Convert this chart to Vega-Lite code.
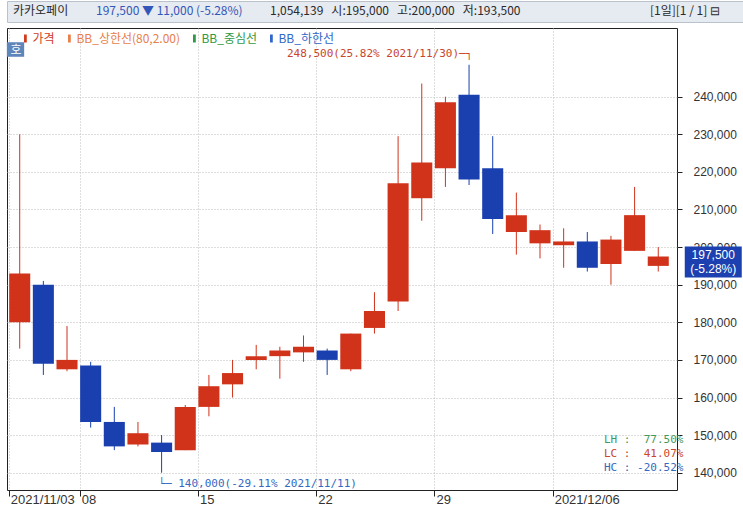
{
  "$schema": "https://vega.github.io/schema/vega-lite/v6.json",
  "background": "white",
  "padding": 0,
  "spacing": 4,
  "resolve": {"scale": {"color": "independent", "shape": "independent", "opacity": "independent"}, "legend": {"color": "independent", "shape": "independent", "opacity": "independent"}},
  "config": {"view": {"stroke": null}, "legend": {"padding": 0, "title": null}},
  "datasets": {
    "ohlc": [
      {"date": "2021/11/03", "open": 180000, "high": 230000, "low": 173000, "close": 193000},
      {"date": "2021/11/04", "open": 190000, "high": 191000, "low": 166000, "close": 169000},
      {"date": "2021/11/05", "open": 167500, "high": 179000, "low": 167000, "close": 170000},
      {"date": "2021/11/08", "open": 168500, "high": 169500, "low": 152000, "close": 153500},
      {"date": "2021/11/09", "open": 153500, "high": 157500, "low": 146000, "close": 147000},
      {"date": "2021/11/10", "open": 147500, "high": 153500, "low": 147000, "close": 150500},
      {"date": "2021/11/11", "open": 148000, "high": 150000, "low": 140000, "close": 145500},
      {"date": "2021/11/12", "open": 146000, "high": 158000, "low": 146000, "close": 157500},
      {"date": "2021/11/15", "open": 157500, "high": 166000, "low": 155000, "close": 163000},
      {"date": "2021/11/16", "open": 163500, "high": 170000, "low": 160000, "close": 166500},
      {"date": "2021/11/17", "open": 170000, "high": 174000, "low": 167500, "close": 171000},
      {"date": "2021/11/18", "open": 171000, "high": 173500, "low": 165000, "close": 172500},
      {"date": "2021/11/19", "open": 172000, "high": 176500, "low": 169500, "close": 173500},
      {"date": "2021/11/22", "open": 172500, "high": 173000, "low": 166000, "close": 170000},
      {"date": "2021/11/23", "open": 167500, "high": 177000, "low": 167000, "close": 177000},
      {"date": "2021/11/24", "open": 178500, "high": 188000, "low": 177000, "close": 183000},
      {"date": "2021/11/25", "open": 185500, "high": 229500, "low": 183000, "close": 217000},
      {"date": "2021/11/26", "open": 213000, "high": 243500, "low": 207000, "close": 222500},
      {"date": "2021/11/29", "open": 221000, "high": 240000, "low": 216000, "close": 238500},
      {"date": "2021/11/30", "open": 240500, "high": 248500, "low": 216500, "close": 218000},
      {"date": "2021/12/01", "open": 221000, "high": 229500, "low": 203500, "close": 207500},
      {"date": "2021/12/02", "open": 204000, "high": 214500, "low": 198000, "close": 208500},
      {"date": "2021/12/03", "open": 201000, "high": 206000, "low": 197000, "close": 204500},
      {"date": "2021/12/06", "open": 200500, "high": 205000, "low": 194500, "close": 201500},
      {"date": "2021/12/07", "open": 201500, "high": 204000, "low": 193500, "close": 194500},
      {"date": "2021/12/08", "open": 195500, "high": 203000, "low": 190000, "close": 202000},
      {"date": "2021/12/09", "open": 199000, "high": 216000, "low": 199000, "close": 208500},
      {"date": "2021/12/10", "open": 195000, "high": 200000, "low": 193500, "close": 197500}
    ],
    "ann": [
      {"date": "2021/11/30", "price": 248500, "kind": "hi", "label": "248,500(25.82% 2021/11/30)─┐"},
      {"date": "2021/11/11", "price": 140000, "kind": "lo", "label": "└─ 140,000(-29.11% 2021/11/11)"}
    ],
    "last": [
      {"date": "2021/12/10", "close": 197500, "label": "197,500\n(-5.28%)"}
    ],
    "series": [
      {"series": "가격"}, {"series": "BB_상한선(80,2.00)"}, {"series": "BB_중심선"}, {"series": "BB_하한선"}
    ],
    "stats": [
      {"stat": "LH :\u00a0 77.50%"}, {"stat": "LC :\u00a0 41.07%"}, {"stat": "HC : -20.52%"}
    ],
    "badge": [
      {"badge": "호"}
    ],
    "hdr": [
      {"part": "카카오페이"},
      {"part": "197,500 ▼ 11,000 (-5.28%)"},
      {"part": "1,054,139\u00a0\u00a0 시:195,000\u00a0\u00a0 고:200,000\u00a0\u00a0 저:193,500"}
    ],
    "hdr2": [
      {"part": "[1일][1 / 1] ⊟"}
    ]
  },
  "vconcat": [
    {
      "width": 743,
      "height": 21,
      "view": {"fill": "#e6eaf1", "stroke": "#b9c1cc"},
      "resolve": {"scale": {"color": "independent", "shape": "independent"}, "legend": {"color": "independent", "shape": "independent"}},
      "layer": [
        {
          "data": {"name": "hdr"},
          "mark": {"type": "square", "opacity": 0},
          "encoding": {
            "color": {
              "field": "part", "type": "nominal",
              "scale": {"domain": ["카카오페이", "197,500 ▼ 11,000 (-5.28%)", "1,054,139\u00a0\u00a0 시:195,000\u00a0\u00a0 고:200,000\u00a0\u00a0 저:193,500"], "range": ["#2b2b2b", "#3456b8", "#2b2b2b"]},
              "legend": {
                "orient": "none", "legendX": -6, "legendY": 4, "direction": "horizontal",
                "symbolSize": 0, "symbolOpacity": 0, "symbolStrokeWidth": 0, "labelOffset": 0,
                "columnPadding": 15, "labelFont": "Noto Sans CJK KR", "labelFontSize": 12, "labelLimit": 500,
                "encode": {"labels": {"update": {"fill": {"signal": "indexof(datum.label, '▼') >= 0 ? '#3456b8' : '#2b2b2b'"}}}}
              }
            }
          }
        },
        {
          "data": {"name": "hdr2"},
          "mark": {"type": "point", "opacity": 0, "size": 0},
          "encoding": {
            "shape": {
              "field": "part", "type": "nominal",
              "legend": {
                "orient": "none", "legendX": 631, "legendY": 4, "direction": "horizontal",
                "symbolSize": 0, "symbolOpacity": 0, "symbolStrokeWidth": 0, "labelOffset": 0,
                "labelFont": "Noto Sans CJK KR", "labelFontSize": 12, "labelColor": "#2b2b2b", "labelLimit": 300
              }
            }
          }
        }
      ]
    },
    {
      "width": 670,
      "height": 462,
      "view": {"stroke": "#222222", "strokeWidth": 1, "fill": "white"},
      "resolve": {"scale": {"color": "independent"}, "legend": {"color": "independent"}},
      "layer": [
        {
          "data": {"name": "ohlc"},
          "mark": {"type": "rule", "strokeWidth": 1},
          "encoding": {
            "x": {
              "field": "date", "type": "ordinal",
              "scale": {"type": "band", "paddingInner": 0.11, "paddingOuter": 0.22, "align": 0.21},
              "axis": {
                "title": null, "bandPosition": 0,
                "values": ["2021/11/03", "2021/11/08", "2021/11/15", "2021/11/22", "2021/11/29", "2021/12/06"],
                "labelExpr": "datum.value == '2021/11/03' || datum.value == '2021/12/06' ? datum.value : slice(datum.value, 8)",
                "labelAlign": "left", "labelAngle": 0, "labelBaseline": "top", "labelOffset": -9,
                "labelFont": "Liberation Sans", "labelFontSize": 13, "labelColor": "#333333",
                "labelPadding": -3, "labelOverlap": false, "labelFlush": false, "labelBound": false,
                "tickSize": 6, "tickColor": "#222222", "domain": false,
                "grid": true, "gridDash": [1, 2], "gridColor": "#bdbdbd"
              }
            },
            "y": {
              "field": "low", "type": "quantitative",
              "scale": {"domain": [135400, 258270], "nice": false, "zero": false},
              "axis": {
                "title": null, "orient": "right",
                "values": [140000, 150000, 160000, 170000, 180000, 190000, 200000, 210000, 220000, 230000, 240000],
                "labelExpr": "format(datum.value, ',')", "labelAlign": "left", "labelBaseline": "middle",
                "labelFont": "Liberation Sans", "labelFontSize": 12, "labelColor": "#333333",
                "labelPadding": 11, "tickSize": 5, "tickColor": "#222222", "domain": false,
                "grid": true, "gridDash": [1, 2], "gridColor": "#bdbdbd"
              }
            },
            "y2": {"field": "high"},
            "color": {"condition": {"test": "datum.close >= datum.open", "value": "#d0331a"}, "value": "#1a40b0"}
          }
        },
        {
          "data": {"name": "ohlc"},
          "mark": {"type": "bar"},
          "encoding": {
            "x": {"field": "date", "type": "ordinal"},
            "y": {"field": "open", "type": "quantitative"},
            "y2": {"field": "close"},
            "color": {"condition": {"test": "datum.close >= datum.open", "value": "#d0331a"}, "value": "#1a40b0"}
          }
        },
        {
          "data": {"name": "ann"},
          "transform": [{"filter": "datum.kind == 'hi'"}],
          "mark": {"type": "text", "align": "right", "baseline": "middle", "dx": 3.3, "dy": -10.7, "font": "DejaVu Sans Mono", "fontSize": 11, "color": "#c8452e"},
          "encoding": {
            "x": {"field": "date", "type": "ordinal"},
            "y": {"field": "price", "type": "quantitative"},
            "text": {"field": "label"}
          }
        },
        {
          "data": {"name": "ann"},
          "transform": [{"filter": "datum.kind == 'lo'"}],
          "mark": {"type": "text", "align": "left", "baseline": "middle", "dx": -3.3, "dy": 11.3, "font": "DejaVu Sans Mono", "fontSize": 11, "color": "#3569c0"},
          "encoding": {
            "x": {"field": "date", "type": "ordinal"},
            "y": {"field": "price", "type": "quantitative"},
            "text": {"field": "label"}
          }
        },
        {
          "data": {"name": "last"},
          "mark": {"type": "point", "shape": "M-1,-0.54L1,-0.54L1,0.54L-1,0.54Z", "size": 3249, "filled": true, "fill": "#1c40b0", "opacity": 1, "strokeWidth": 0, "xOffset": 55, "yOffset": 5.5},
          "encoding": {
            "x": {"field": "date", "type": "ordinal"},
            "y": {"field": "close", "type": "quantitative"}
          }
        },
        {
          "data": {"name": "last"},
          "mark": {"type": "text", "align": "center", "baseline": "middle", "lineBreak": "\n", "lineHeight": 14, "dx": 55, "dy": -1.5, "font": "Liberation Sans", "fontSize": 12, "color": "white"},
          "encoding": {
            "x": {"field": "date", "type": "ordinal"},
            "y": {"field": "close", "type": "quantitative"},
            "text": {"field": "label"}
          }
        },
        {
          "data": {"name": "series"},
          "mark": {"type": "square", "opacity": 0},
          "encoding": {
            "color": {
              "field": "series", "type": "nominal",
              "scale": {"domain": ["가격", "BB_상한선(80,2.00)", "BB_중심선", "BB_하한선"], "range": ["#d03c1e", "#e8804a", "#2f9a44", "#3067c8"]},
              "legend": {
                "orient": "none", "legendX": 12.4, "legendY": 4.5, "direction": "horizontal",
                "symbolType": "M-0.35,-1L0.35,-1L0.35,1L-0.35,1Z", "symbolSize": 64, "symbolOpacity": 1, "symbolStrokeWidth": 0,
                "labelOffset": 1, "columnPadding": 8, "labelFont": "Noto Sans CJK KR", "labelFontSize": 12, "labelLimit": 300,
                "encode": {"labels": {"update": {"fill": {"signal": "datum.label == '가격' ? '#d03c1e' : datum.label == 'BB_중심선' ? '#2f9a44' : datum.label == 'BB_하한선' ? '#3067c8' : '#e8804a'"}}}}
              }
            }
          }
        },
        {
          "data": {"name": "stats"},
          "mark": {"type": "square", "opacity": 0},
          "encoding": {
            "color": {
              "field": "stat", "type": "nominal",
              "scale": {"domain": ["LH :\u00a0 77.50%", "LC :\u00a0 41.07%", "HC : -20.52%"], "range": ["#3f9a5a", "#c8452e", "#3569c0"]},
              "legend": {
                "orient": "none", "legendX": 586, "legendY": 406.5, "direction": "vertical",
                "symbolSize": 0, "symbolOpacity": 0, "symbolStrokeWidth": 0, "labelOffset": 0, "rowPadding": 2,
                "labelFont": "DejaVu Sans Mono", "labelFontSize": 11, "labelLimit": 300,
                "encode": {"labels": {"update": {"fill": {"signal": "slice(datum.label, 0, 2) == 'LH' ? '#3f9a5a' : slice(datum.label, 0, 2) == 'LC' ? '#c8452e' : '#3569c0'"}}}}
              }
            }
          }
        },
        {
          "data": {"name": "badge"},
          "mark": {"type": "point", "filled": true, "size": 0, "color": "#5f86bb"},
          "encoding": {
            "opacity": {
              "field": "badge", "type": "nominal",
              "scale": {"range": [1, 1]},
              "legend": {
                "orient": "none", "legendX": -1, "legendY": 12, "direction": "vertical",
                "symbolType": "M-1,-0.84L1,-0.84L1,0.84L-1,0.84Z", "symbolSize": 300, "symbolOpacity": 1,
                "symbolFillColor": "#5f86bb", "symbolStrokeColor": "#46709f", "symbolStrokeWidth": 1,
                "labelOffset": -14.6, "labelFont": "Noto Sans CJK KR", "labelFontSize": 12, "labelColor": "white"
              }
            }
          }
        }
      ]
    }
  ]
}
